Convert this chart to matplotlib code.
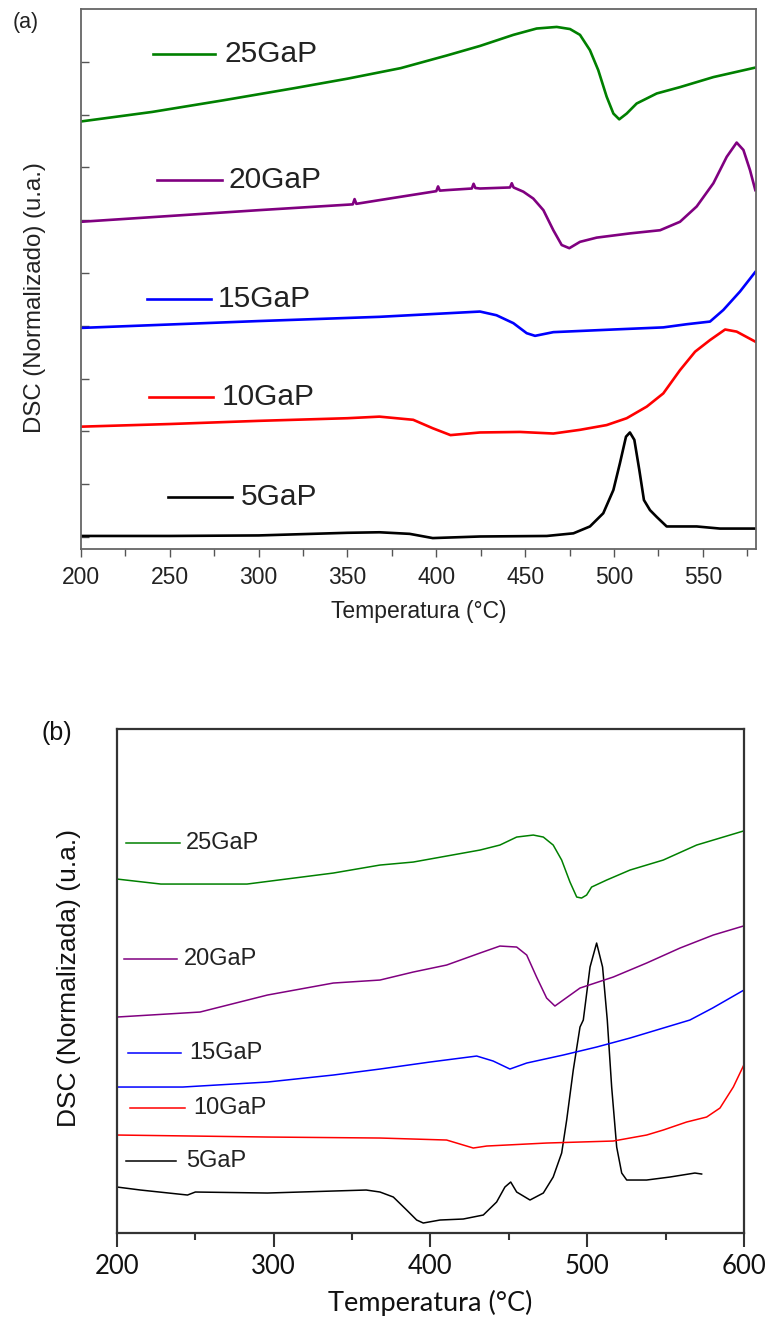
import matplotlib
matplotlib.use("Agg")
import matplotlib.pyplot as plt
from matplotlib.ticker import MultipleLocator

# ---- panel (a) data: temperatura (°C) y señal DSC normalizada (u.a.)
a_t_5 = [200, 250, 300, 350, 368, 385, 398, 424.6, 462.2, 477.2, 486.5, 494, 499.7, 503.4,
         506.8, 509, 511.5, 514.3, 516.9, 520.3, 524.1, 529.7, 546.6, 559.7, 579.6]
a_y_5 = [0.02, 0.02, 0.03, 0.08, 0.09, 0.06, -0.02, 0.01, 0.02, 0.07, 0.20, 0.45, 0.89, 1.40,
         1.90, 1.98, 1.84, 1.27, 0.70, 0.51, 0.38, 0.20, 0.20, 0.16, 0.16]

a_t_10 = [200, 250, 300, 350, 368, 387, 398, 408, 424.6, 447.1, 465.9, 480.9, 495.9, 507.2,
          518.5, 527.8, 537.2, 545.7, 554.1, 562.6, 569.1, 579.6]
a_y_10 = [2.09, 2.14, 2.20, 2.25, 2.28, 2.22, 2.06, 1.93, 1.98, 1.99, 1.96, 2.03, 2.12, 2.25,
          2.47, 2.72, 3.16, 3.51, 3.73, 3.93, 3.89, 3.70]

a_t_15 = [200, 300, 368, 424.6, 433.9, 443.4, 450.9, 455.6, 465.9, 499.7, 527.8, 541, 554.1,
          561.6, 571, 579.6]
a_y_15 = [3.96, 4.09, 4.17, 4.27, 4.20, 4.05, 3.86, 3.81, 3.88, 3.93, 3.97, 4.03, 4.08, 4.30,
          4.65, 5.02]

a_t_20 = [200, 250, 300, 353, 354, 355, 368, 400, 401, 402, 406, 420, 421, 422, 424.6, 441.5,
          442.5, 443.5, 449, 454.6, 460.3, 465.9, 470.6, 474.9, 480.9, 490.3, 509, 526, 537.2,
          546.6, 556, 563.5, 569.1, 572.9, 576.6, 579.6]
a_y_20 = [5.97, 6.08, 6.19, 6.30, 6.40, 6.31, 6.38, 6.55, 6.64, 6.56, 6.57, 6.60, 6.69, 6.61,
          6.60, 6.62, 6.70, 6.62, 6.54, 6.41, 6.19, 5.81, 5.53, 5.47, 5.59, 5.67, 5.75, 5.81,
          5.97, 6.26, 6.70, 7.20, 7.47, 7.33, 6.95, 6.57]

a_t_25 = [200, 240, 280, 320, 350, 380, 406, 424.6, 443.4, 456.5, 467.8, 475.3, 480.9, 486.5,
          491.2, 495.9, 499.7, 503, 507.2, 512.8, 524.1, 537.2, 556, 579.6]
a_y_25 = [7.87, 8.05, 8.27, 8.50, 8.68, 8.88, 9.12, 9.30, 9.51, 9.63, 9.66, 9.62, 9.51, 9.22,
          8.84, 8.34, 8.02, 7.91, 8.02, 8.21, 8.40, 8.52, 8.71, 8.89]

# ---- panel (b) data
b_t_5 = [200, 215, 245, 250, 296, 359, 367.8, 376.3, 384.8, 391.2, 395.4, 406.1, 420.9, 433.7,
         442.2, 447.5, 451.2, 455, 463.5, 472, 478.3, 483.7, 486.9, 491.1, 495.4, 497.5, 501.8,
         506, 509.8, 512.8, 515.6, 518.8, 522, 525.2, 537.9, 552.8, 568.7, 573]
b_y_5 = [0.46, 0.43, 0.38, 0.41, 0.40, 0.43, 0.41, 0.36, 0.23, 0.13, 0.10, 0.13, 0.14, 0.18,
         0.31, 0.46, 0.51, 0.41, 0.33, 0.40, 0.56, 0.80, 1.13, 1.63, 2.06, 2.13, 2.66, 2.90,
         2.66, 2.13, 1.46, 0.86, 0.60, 0.53, 0.53, 0.56, 0.60, 0.59]

b_t_10 = [200, 296, 367.8, 410.3, 418.8, 427.3, 435.9, 474.1, 516.6, 537.9, 548.5, 563.4, 576.2,
          584.7, 593.2, 599.6]
b_y_10 = [0.98, 0.96, 0.95, 0.93, 0.89, 0.85, 0.87, 0.90, 0.92, 0.98, 1.03, 1.11, 1.16, 1.25,
          1.46, 1.67]

b_t_15 = [200, 242, 296, 338, 367.8, 399.7, 429.5, 440, 450.7, 461.4, 484.7, 506, 527.3, 548.5,
          565.5, 580, 600]
b_y_15 = [1.46, 1.46, 1.51, 1.58, 1.64, 1.71, 1.77, 1.72, 1.64, 1.70, 1.78, 1.86, 1.95, 2.05,
          2.13, 2.25, 2.43]

b_t_20 = [200, 253, 296, 338, 367.8, 389, 410.3, 431.6, 444.3, 455, 461.4, 467.7, 474.1, 479.4,
          484.7, 495.4, 516.6, 537.9, 559.2, 580.4, 599.6]
b_y_20 = [2.16, 2.21, 2.38, 2.50, 2.53, 2.61, 2.68, 2.80, 2.87, 2.86, 2.78, 2.56, 2.35, 2.27,
          2.33, 2.45, 2.56, 2.70, 2.85, 2.98, 3.07]

b_t_25 = [200, 228, 283, 338, 367.8, 389, 410.3, 431.6, 444.3, 455, 465.6, 472, 478.3, 483.7,
          489, 493.3, 496.4, 499.6, 502.8, 512.4, 527.3, 548.5, 569.8, 599.6]
b_y_25 = [3.54, 3.49, 3.49, 3.60, 3.68, 3.71, 3.77, 3.83, 3.88, 3.96, 3.98, 3.96, 3.88, 3.73,
          3.51, 3.36, 3.35, 3.38, 3.46, 3.53, 3.63, 3.73, 3.88, 4.02]

names = ["5GaP", "10GaP", "15GaP", "20GaP", "25GaP"]
colors = ["black", "#ff0000", "#0000ff", "#800080", "#008000"]

fig = plt.figure(figsize=(7.68, 13.21), dpi=100)

# ---------------- (a)
ax1 = fig.add_axes([0.1055, 0.5844, 0.8789, 0.4088])
a_series = [(a_t_5, a_y_5), (a_t_10, a_y_10), (a_t_15, a_y_15), (a_t_20, a_y_20), (a_t_25, a_y_25)]
for (t, y), c in zip(a_series, colors):
    ax1.plot(t, y, color=c, lw=1.9, solid_joinstyle="round")
ax1.set_xlim(200, 580)
ax1.set_ylim(-0.227, 10.0)
ax1.set_yticks(range(10))
ax1.set_yticklabels([])
ax1.xaxis.set_major_locator(MultipleLocator(50))
ax1.xaxis.set_minor_locator(MultipleLocator(25))
ax1.tick_params(axis="y", direction="in", length=6, color="#555555", width=1)
ax1.tick_params(axis="x", which="major", direction="out", length=6, color="#555555", width=1,
                labelsize=16.5, pad=6)
ax1.tick_params(axis="x", which="minor", direction="out", length=5, color="#555555", width=1)
for lab in ax1.get_xticklabels():
    lab.set_fontfamily("Liberation Sans")
    lab.set_color("#222222")
for s in ax1.spines.values():
    s.set_color("#666666")
    s.set_linewidth(1.3)
ax1.set_xlabel("Temperatura (°C)", fontsize=16.5, family="Liberation Sans", color="#222222",
               labelpad=8)
ax1.set_ylabel("DSC (Normalizado) (u.a.)", fontsize=17.3, family="Liberation Sans",
               color="#222222")
ax1.yaxis.set_label_coords(-0.052, 0.465)

a_labels = [  # x0, x1, y, text x
    (0.129, 0.224, 0.096, 0.236),
    (0.101, 0.196, 0.281, 0.209),
    (0.098, 0.193, 0.463, 0.203),
    (0.113, 0.209, 0.683, 0.218),
    (0.107, 0.199, 0.917, 0.213),
]
for (x0, x1, yy, xt), c, n in zip(a_labels, colors, names):
    ax1.plot([x0, x1], [yy, yy], color=c, lw=1.9, transform=ax1.transAxes)
    ax1.text(xt, yy, n, transform=ax1.transAxes, va="center", ha="left", fontsize=21.5,
             family="Liberation Sans", color="#222222")
fig.text(0.016, 0.983, "(a)", fontsize=15.5, family="Liberation Sans", color="#222222",
         va="center", ha="left")

# ---------------- (b)
ax2 = fig.add_axes([0.1523, 0.0666, 0.8164, 0.3815])
b_series = [(b_t_5, b_y_5), (b_t_10, b_y_10), (b_t_15, b_y_15), (b_t_20, b_y_20), (b_t_25, b_y_25)]
for (t, y), c in zip(b_series, colors):
    ax2.plot(t, y, color=c, lw=1.1, solid_joinstyle="round")
ax2.set_xlim(200, 600)
ax2.set_ylim(0, 5.04)
ax2.set_yticks([])
ax2.xaxis.set_major_locator(MultipleLocator(100))
ax2.xaxis.set_minor_locator(MultipleLocator(50))
ax2.tick_params(axis="x", which="major", direction="out", length=10, width=1.5, color="#333333",
                labelsize=18.5, pad=5)
ax2.tick_params(axis="x", which="minor", direction="out", length=5, width=1.5, color="#333333")
for lab in ax2.get_xticklabels():
    lab.set_fontfamily("Lato")
    lab.set_color("#111111")
for s in ax2.spines.values():
    s.set_color("#333333")
    s.set_linewidth(1.6)
ax2.set_xlabel("Temperatura (°C)", fontsize=19.5, family="Lato", color="#111111", labelpad=8)
ax2.set_ylabel("DSC (Normalizada) (u.a.)", fontsize=19, family="Liberation Sans",
               color="#111111")
ax2.yaxis.set_label_coords(-0.058, 0.506)

b_labels = [
    (0.014, 0.094, 0.143, 0.110),
    (0.021, 0.108, 0.248, 0.121),
    (0.018, 0.102, 0.357, 0.115),
    (0.011, 0.096, 0.544, 0.107),
    (0.014, 0.100, 0.774, 0.110),
]
for (x0, x1, yy, xt), c, n in zip(b_labels, colors, names):
    ax2.plot([x0, x1], [yy, yy], color=c, lw=1.1, transform=ax2.transAxes)
    ax2.text(xt, yy, n, transform=ax2.transAxes, va="center", ha="left", fontsize=17,
             family="Liberation Sans", color="#222222")
fig.text(0.054, 0.445, "(b)", fontsize=18, family="Liberation Sans", color="#111111",
         va="center", ha="left")

fig.savefig("out.png", dpi=100)
